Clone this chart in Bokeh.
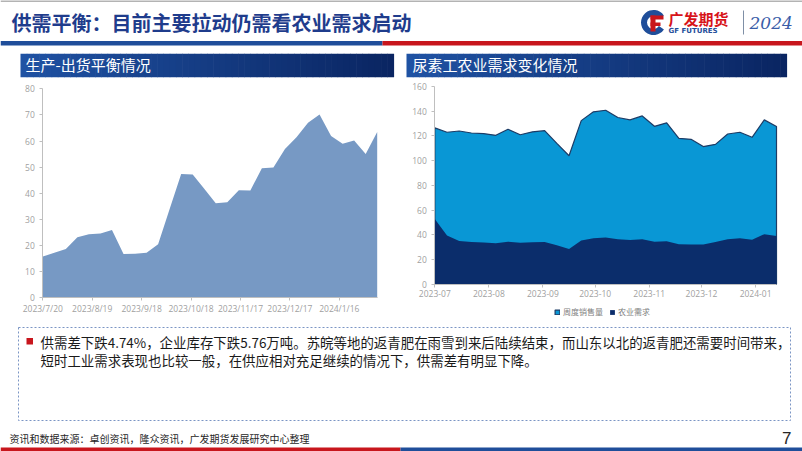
import pandas as pd
from bokeh.plotting import figure
from bokeh.layouts import column, row
from bokeh.models import Range1d, FixedTicker, Legend, LegendItem
from bokeh.core.properties import value
from bokeh.embed import file_html
from bokeh.resources import INLINE

CJK = "Noto Sans CJK SC"

page_title = "供需平衡：目前主要拉动仍需看农业需求启动"
left_title = "生产-出货平衡情况"
right_title = "尿素工农业需求变化情况"

left_start = "2023-07-20"
left_balance = [15.8, 17.2, 18.7, 23.2, 24.3, 24.6, 26.0, 16.8, 16.9, 17.2,
                20.5, 34.0, 47.4, 47.2, 41.7, 36.2, 36.6, 41.2, 41.1, 49.6,
                49.9, 57.0, 61.5, 67.0, 70.2, 61.9, 59.0, 60.2, 55.0, 63.5]
left_tick_days = [0, 30, 60, 90, 120, 150, 180]
left_tick_labels = ["2023/7/20", "2023/8/19", "2023/9/18", "2023/10/18",
                    "2023/11/17", "2023/12/17", "2024/1/16"]
left_yticks = [0, 10, 20, 30, 40, 50, 60, 70, 80]

right_start = "2023-07-01"
weekly_sales = [126.5, 123.0, 124.0, 122.4, 121.9, 120.5, 125.4, 121.0, 123.3, 124.3,
                114.0, 104.0, 132.4, 139.5, 140.8, 134.9, 133.0, 136.2, 127.8, 130.6,
                118.1, 117.3, 111.4, 113.2, 121.6, 123.0, 118.9, 133.0, 127.6]
agri_demand = [52.8, 39.5, 35.0, 34.2, 33.8, 33.3, 34.5, 33.7, 34.0, 34.2,
               31.5, 28.6, 35.4, 37.3, 37.8, 36.4, 35.8, 36.4, 34.5, 34.8,
               32.4, 32.1, 32.1, 34.3, 36.4, 37.3, 36.1, 40.5, 39.0]
right_tick_dates = ["2023-07-01", "2023-08-01", "2023-09-01", "2023-10-01",
                    "2023-11-01", "2023-12-01", "2024-01-01"]
right_tick_labels = ["2023-07", "2023-08", "2023-09", "2023-10", "2023-11", "2023-12", "2024-01"]
right_yticks = [0, 20, 40, 60, 80, 100, 120, 140, 160]
series_names = ["周度销售量", "农业需求"]

bullet_lines = ["供需差下跌4.74%，企业库存下跌5.76万吨。苏皖等地的返青肥在雨雪到来后陆续结束，而山东以北的返青肥还需要时间带来，",
                "短时工业需求表现也比较一般，在供应相对充足继续的情况下，供需差有明显下降。"]
source_text = "资讯和数据来源：卓创资讯，隆众资讯，广发期货发展研究中心整理"
page_no = "7"

NAVY_TXT = "#1f3c8c"
BLUE_LINE = "#1f4e9a"
RED = "#c8161d"
AXIS_C = "#bfbfbf"
LABEL_C = "#9f9f9f"
LEFT_FILL = "#7799c4"
SALES_FILL = "#0997d5"
SALES_LINE = "#1d3c66"
AGRI_FILL = "#0b2d6b"

W = 802


def deco_fig(h, y0, y1):
    f = figure(width=W, height=h, x_range=Range1d(0, W), y_range=Range1d(y1, y0),
               output_backend="svg", toolbar_location=None, min_border=0)
    f.axis.visible = False
    f.grid.visible = False
    f.outline_line_color = None
    return f


hdr = deco_fig(48, 0, 48)
hdr.segment(x0=[0], y0=[0.5], x1=[802], y1=[0.5], line_color="#9a9a9a", line_width=1.5)
hdr.text(x=[11], y=[22], text=[page_title], text_font=value(CJK), text_font_size="20px",
         text_font_style="bold", text_color=NAVY_TXT, text_baseline="middle", text_align="left")
hdr.quad(left=[0], right=[382], top=[40.5], bottom=[45], fill_color=BLUE_LINE, line_color=None)
hdr.quad(left=[382], right=[802], top=[40.5], bottom=[45], fill_color=RED, line_color=None)
hdr.annular_wedge(x=[653], y=[22], inner_radius=6.5, outer_radius=12.5, start_angle=0.6,
                  end_angle=5.7, fill_color=BLUE_LINE, line_color=None)
hdr.quad(left=[650], right=[663], top=[15], bottom=[19], fill_color=RED, line_color=None)
hdr.quad(left=[650], right=[655], top=[15], bottom=[31], fill_color=RED, line_color=None)
hdr.quad(left=[650], right=[660], top=[22], bottom=[25.5], fill_color=RED, line_color=None)
hdr.text(x=[668], y=[18], text=["广发期货"], text_font=value(CJK), text_font_size="15px",
         text_font_style="bold", text_color="#d7141a", text_baseline="middle")
hdr.text(x=[668], y=[30.5], text=["GF FUTURES"], text_font=value("DejaVu Sans"),
         text_font_size="7px", text_font_style="bold", text_color=BLUE_LINE, text_baseline="middle")
hdr.segment(x0=[743], y0=[10], x1=[743], y1=[34], line_color="#7f8fa6", line_width=1)
hdr.text(x=[749], y=[22], text=["2024"], text_font=value("DejaVu Serif"), text_font_size="17px",
         text_font_style="italic", text_color="#3a5da8", text_baseline="middle")

bars = deco_fig(30, 48, 78)
def grad_bar(fig, x0, x1, y0, y1, n=60):
    c0 = (0x1f, 0x52, 0xa3)
    c1 = (0x0a, 0x25, 0x62)
    lefts, rights, cols = [], [], []
    for i in range(n):
        t = i / (n - 1)
        c = tuple(int(round(a + (b - a) * t)) for a, b in zip(c0, c1))
        lefts.append(x0 + (x1 - x0) * i / n)
        rights.append(x0 + (x1 - x0) * (i + 1) / n + 0.6)
        cols.append("#%02x%02x%02x" % c)
    fig.quad(left=lefts, right=rights, top=[y0] * n, bottom=[y1] * n, fill_color=cols, line_color=None)
grad_bar(bars, 20, 393, 53.3, 76.7)
grad_bar(bars, 406, 786, 53.3, 76.7)
bars.text(x=[25], y=[64], text=[left_title], text_font=value(CJK), text_font_size="15px",
          text_color="white", text_baseline="middle")
bars.text(x=[412], y=[64], text=[right_title], text_font=value(CJK), text_font_size="15px",
          text_color="white", text_baseline="middle")


def chart_fig(width, height, xlim, ylim, box):
    """Figure whose frame is the whole canvas; the data box (pixels, local) is
    box = (left, top, right, bottom); axes are drawn inside at fixed locations."""
    bl, bt, br, bb = box
    kx = (br - bl) / (xlim[1] - xlim[0])
    ky = (bb - bt) / (ylim[1] - ylim[0])
    xr = Range1d(xlim[0] - bl / kx, xlim[1] + (width - br) / kx)
    yr = Range1d(ylim[0] - (height - bb) / ky, ylim[1] + bt / ky)
    p = figure(width=width, height=height, x_range=xr, y_range=yr, output_backend="svg",
               toolbar_location=None, min_border=0)
    p.grid.visible = False
    p.outline_line_color = None
    p.xaxis.fixed_location = ylim[0]
    p.yaxis.fixed_location = xlim[0]
    p.xaxis.bounds = xlim
    p.yaxis.bounds = ylim
    for ax in (p.xaxis[0], p.yaxis[0]):
        ax.axis_line_color = AXIS_C
        ax.major_tick_line_color = AXIS_C
        ax.major_tick_out = 3
        ax.major_tick_in = 0
        ax.minor_tick_line_color = None
        ax.major_label_text_color = LABEL_C
        ax.major_label_text_font = "Open Sans"
    return p


# ---------------- left chart ----------------
l_days = [(d - pd.Timestamp(left_start)).days
          for d in pd.date_range(left_start, periods=len(left_balance), freq="7D")]
lp = chart_fig(400, 244, (0, l_days[-1]), (0, 80), (42.3, 10.3, 376.7, 219.3))
lp.varea(x=l_days, y1=[0] * len(l_days), y2=left_balance, fill_color=LEFT_FILL)
lp.xaxis.ticker = FixedTicker(ticks=left_tick_days)
lp.xaxis.major_label_overrides = dict(zip(left_tick_days, left_tick_labels))
lp.xaxis.major_label_text_font_size = "8.5px"
lp.xaxis.major_label_standoff = 2
lp.yaxis.ticker = FixedTicker(ticks=left_yticks)
lp.yaxis.major_label_text_font_size = "8.5px"
lp.yaxis.major_label_standoff = 5

# ---------------- right chart ----------------
r0 = pd.Timestamp(right_start)
r_days = [(d - r0).days for d in pd.date_range(right_start, periods=len(weekly_sales), freq="7D")]
r_ticks = [(pd.Timestamp(d) - r0).days for d in right_tick_dates]
rp = chart_fig(402, 244, (0, r_days[-1]), (0, 160), (34.3, 8.0, 376.0, 205.8))
sales = rp.patch(x=[r_days[0]] + r_days + [r_days[-1]], y=[0] + weekly_sales + [0],
                 fill_color=SALES_FILL, line_color=SALES_LINE, line_width=1.2)
agri = rp.varea(x=r_days, y1=[0] * len(r_days), y2=agri_demand, fill_color=AGRI_FILL)
rp.xaxis.ticker = FixedTicker(ticks=r_ticks)
rp.xaxis.major_label_overrides = dict(zip(r_ticks, right_tick_labels))
rp.xaxis.major_label_text_font_size = "8.5px"
rp.xaxis.major_label_standoff = 3
rp.yaxis.ticker = FixedTicker(ticks=right_yticks)
rp.yaxis.major_label_text_font_size = "8.5px"
rp.yaxis.major_label_standoff = 5
leg = Legend(items=[LegendItem(label=series_names[0], renderers=[sales]),
                    LegendItem(label=series_names[1], renderers=[agri])],
             orientation="horizontal", location=(154, 5), border_line_color=None,
             background_fill_alpha=0, label_text_font=CJK, label_text_font_size="8px",
             label_text_color="#7f7f7f", glyph_width=6, glyph_height=6, label_height=8,
             label_standoff=3, spacing=6, padding=0, margin=0)
rp.add_layout(leg)

# ---------------- text box + footer ----------------
tb = deco_fig(129, 322, 451)
tb.quad(left=[18], right=[790], top=[327], bottom=[420], fill_color=None,
        line_color="#7a95c4", line_dash="2 2", line_width=1)
tb.quad(left=[26], right=[32.5], top=[337.5], bottom=[344], fill_color=RED, line_color=None)
tb.text(x=[40, 40], y=[341, 359], text=bullet_lines, text_font=value(CJK), text_font_size="13.45px",
        text_color="#1a1a1a", text_baseline="middle")
tb.text(x=[9], y=[438], text=[source_text], text_font=value(CJK), text_font_size="10px",
        text_color="#262626", text_baseline="middle")
tb.text(x=[791], y=[437], text=[page_no], text_font=value("Liberation Sans"), text_font_size="17px",
        text_color="#262626", text_baseline="middle", text_align="right")
tb.quad(left=[0], right=[400], top=[447], bottom=[451], fill_color=RED, line_color=None)
tb.quad(left=[400], right=[802], top=[447], bottom=[451], fill_color=BLUE_LINE, line_color=None)

layout = column(hdr, bars, row(lp, rp), tb)
open("out.html", "w").write(file_html(layout, INLINE))
